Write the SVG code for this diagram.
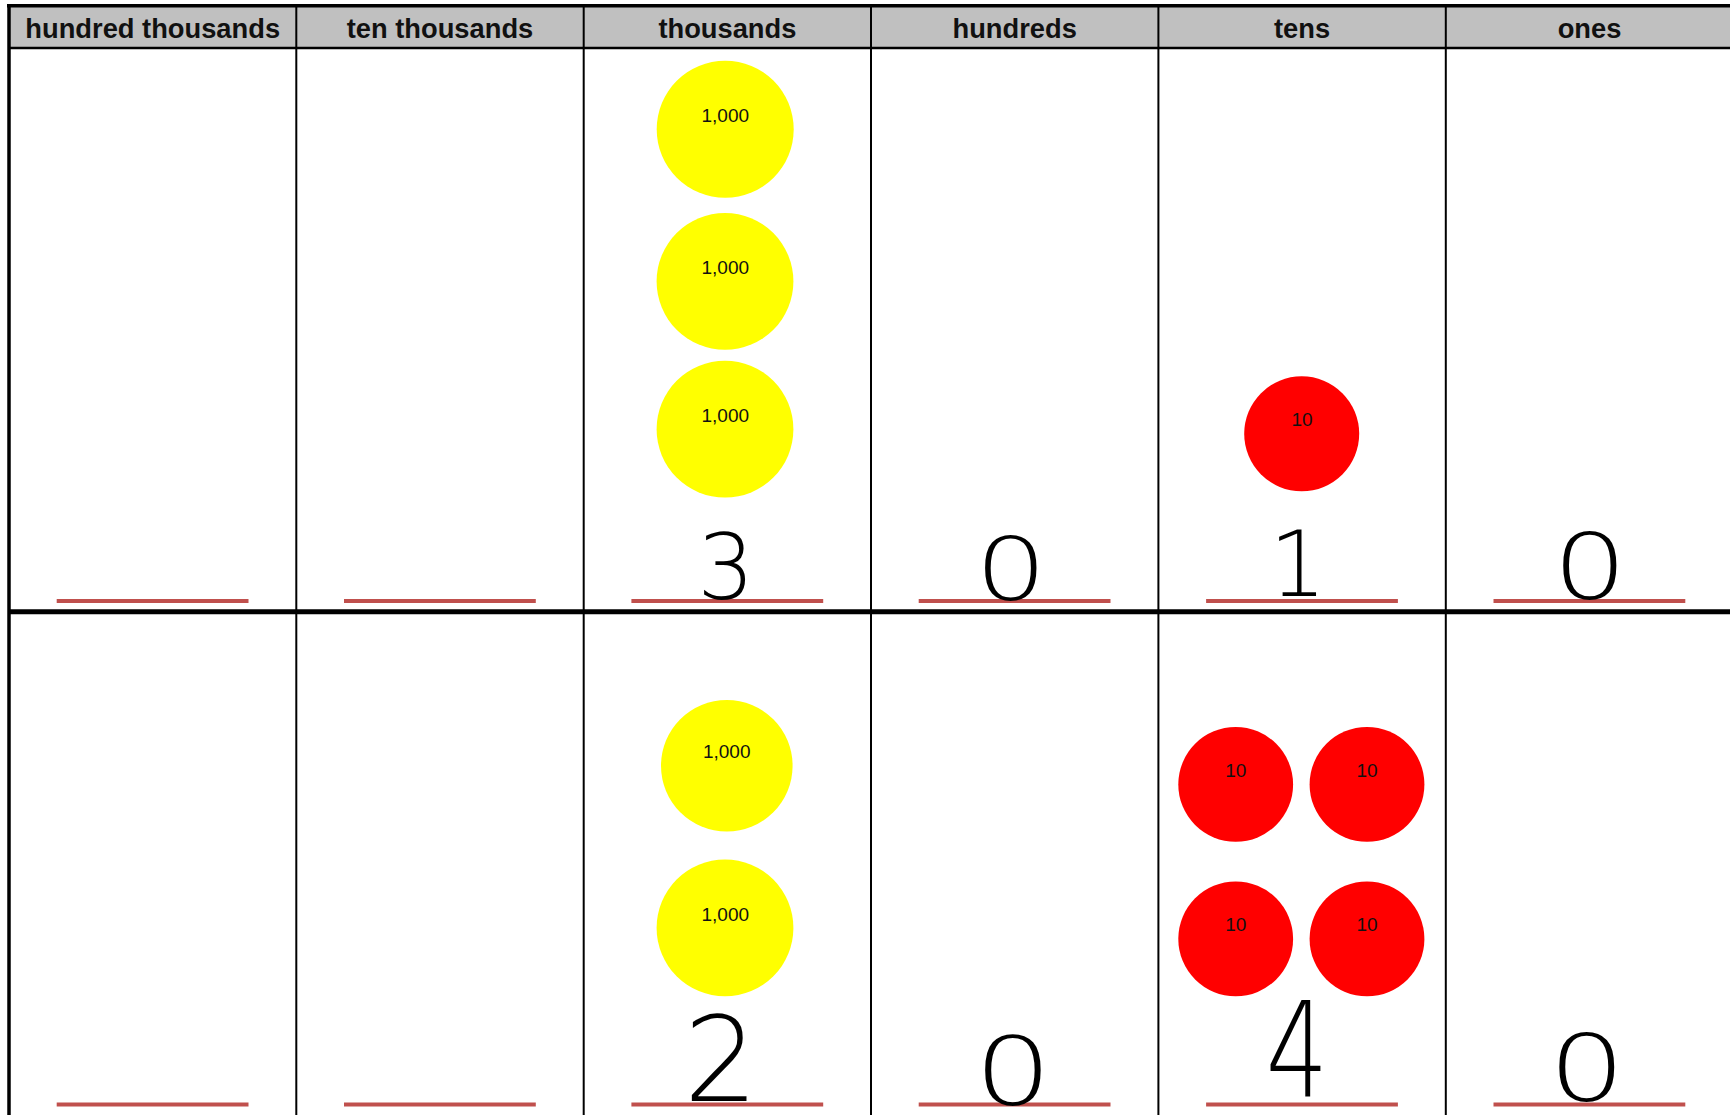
<svg xmlns="http://www.w3.org/2000/svg" width="1730" height="1115" viewBox="0 0 1730 1115">
<style>
.hdr{font-family:"Liberation Sans",Arial,sans-serif;font-weight:bold;font-size:27.3px;fill:#111;text-anchor:middle}
.lbl{font-family:"Liberation Sans",Arial,sans-serif;font-size:19px;fill:#111;text-anchor:middle}
.dig{font-family:"DejaVu Sans",sans-serif;font-weight:200;fill:#000;text-anchor:middle}
.grid{stroke:#000;fill:none}
.ans{stroke:#C0504D;stroke-width:4}
.k{fill:#FFFF00}
.t{fill:#FF0000}
</style>
<rect x="0" y="0" width="1730" height="1115" fill="#fff"/>
<g id="header">
<rect x="9" y="6" width="1721" height="42" fill="#C0C0C0"/>
<text class="hdr" x="152.7" y="37.5">hundred thousands</text>
<text class="hdr" x="440" y="37.5">ten thousands</text>
<text class="hdr" x="727.4" y="37.5">thousands</text>
<text class="hdr" x="1014.7" y="37.5">hundreds</text>
<text class="hdr" x="1302.1" y="37.5">tens</text>
<text class="hdr" x="1589.5" y="37.5">ones</text>
</g>
<g id="grid" class="grid">
<line x1="7" y1="5.7" x2="1730" y2="5.7" stroke-width="3.5"/>
<line x1="9" y1="48" x2="1730" y2="48" stroke-width="2.5"/>
<line x1="9" y1="611.7" x2="1730" y2="611.7" stroke-width="5"/>
<line x1="9" y1="4" x2="9" y2="1115" stroke-width="3.5"/>
<line x1="296.3" y1="6" x2="296.3" y2="1115" stroke-width="2"/>
<line x1="583.7" y1="6" x2="583.7" y2="1115" stroke-width="2"/>
<line x1="871" y1="6" x2="871" y2="1115" stroke-width="2"/>
<line x1="1158.4" y1="6" x2="1158.4" y2="1115" stroke-width="2"/>
<line x1="1445.8" y1="6" x2="1445.8" y2="1115" stroke-width="2"/>
</g>
<g id="answer-lines">
<line class="ans" x1="56.7" y1="601" x2="248.5" y2="601"/>
<line class="ans" x1="344" y1="601" x2="535.8" y2="601"/>
<line class="ans" x1="631.4" y1="601" x2="823.2" y2="601"/>
<line class="ans" x1="918.7" y1="601" x2="1110.5" y2="601"/>
<line class="ans" x1="1206.1" y1="601" x2="1397.9" y2="601"/>
<line class="ans" x1="1493.5" y1="601" x2="1685.3" y2="601"/>
<line class="ans" x1="56.7" y1="1104.5" x2="248.5" y2="1104.5"/>
<line class="ans" x1="344" y1="1104.5" x2="535.8" y2="1104.5"/>
<line class="ans" x1="631.4" y1="1104.5" x2="823.2" y2="1104.5"/>
<line class="ans" x1="918.7" y1="1104.5" x2="1110.5" y2="1104.5"/>
<line class="ans" x1="1206.1" y1="1104.5" x2="1397.9" y2="1104.5"/>
<line class="ans" x1="1493.5" y1="1104.5" x2="1685.3" y2="1104.5"/>
</g>
<g id="row1-thousand-1"><circle class="k" cx="725.2" cy="129.3" r="68.5"/><text class="lbl" x="725.3" y="122.3">1,000</text></g>
<g id="row1-thousand-2"><circle class="k" cx="725" cy="281.4" r="68.4"/><text class="lbl" x="725.3" y="274">1,000</text></g>
<g id="row1-thousand-3"><circle class="k" cx="725" cy="429.2" r="68.4"/><text class="lbl" x="725.3" y="421.5">1,000</text></g>
<g id="row1-ten-1"><circle class="t" cx="1301.7" cy="433.8" r="57.5"/><text class="lbl" x="1302" y="426">10</text></g>
<g id="row2-thousand-1"><circle class="k" cx="726.8" cy="765.8" r="65.8"/><text class="lbl" x="726.7" y="758.3">1,000</text></g>
<g id="row2-thousand-2"><circle class="k" cx="725" cy="927.9" r="68.4"/><text class="lbl" x="725.3" y="920.5">1,000</text></g>
<g id="row2-ten-1"><circle class="t" cx="1235.7" cy="784.4" r="57.4"/><text class="lbl" x="1235.7" y="776.5">10</text></g>
<g id="row2-ten-2"><circle class="t" cx="1367" cy="784.4" r="57.4"/><text class="lbl" x="1367" y="776.5">10</text></g>
<g id="row2-ten-3"><circle class="t" cx="1235.7" cy="938.9" r="57.4"/><text class="lbl" x="1235.7" y="931">10</text></g>
<g id="row2-ten-4"><circle class="t" cx="1367" cy="938.9" r="57.4"/><text class="lbl" x="1367" y="931">10</text></g>
<g id="row1-digits">
<text class="dig" x="726" y="599" font-size="90">3</text>
<text class="dig" transform="translate(1011,600) scale(1.3,1)" x="0" y="0" font-size="87">0</text>
<text class="dig" x="1298" y="596" font-size="90">1</text>
<text class="dig" transform="translate(1590,598.5) scale(1.3,1)" x="0" y="0" font-size="90">0</text>
</g>
<g id="row2-digits">
<text class="dig" x="721" y="1101" font-size="117">2</text>
<text class="dig" transform="translate(1013,1105) scale(1.3,1)" x="0" y="0" font-size="94">0</text>
<text class="dig" transform="translate(1297,1097) scale(0.75,1)" x="0" y="0" font-size="131">4</text>
<text class="dig" transform="translate(1587,1100.5) scale(1.3,1)" x="0" y="0" font-size="93">0</text>
</g>
</svg>
